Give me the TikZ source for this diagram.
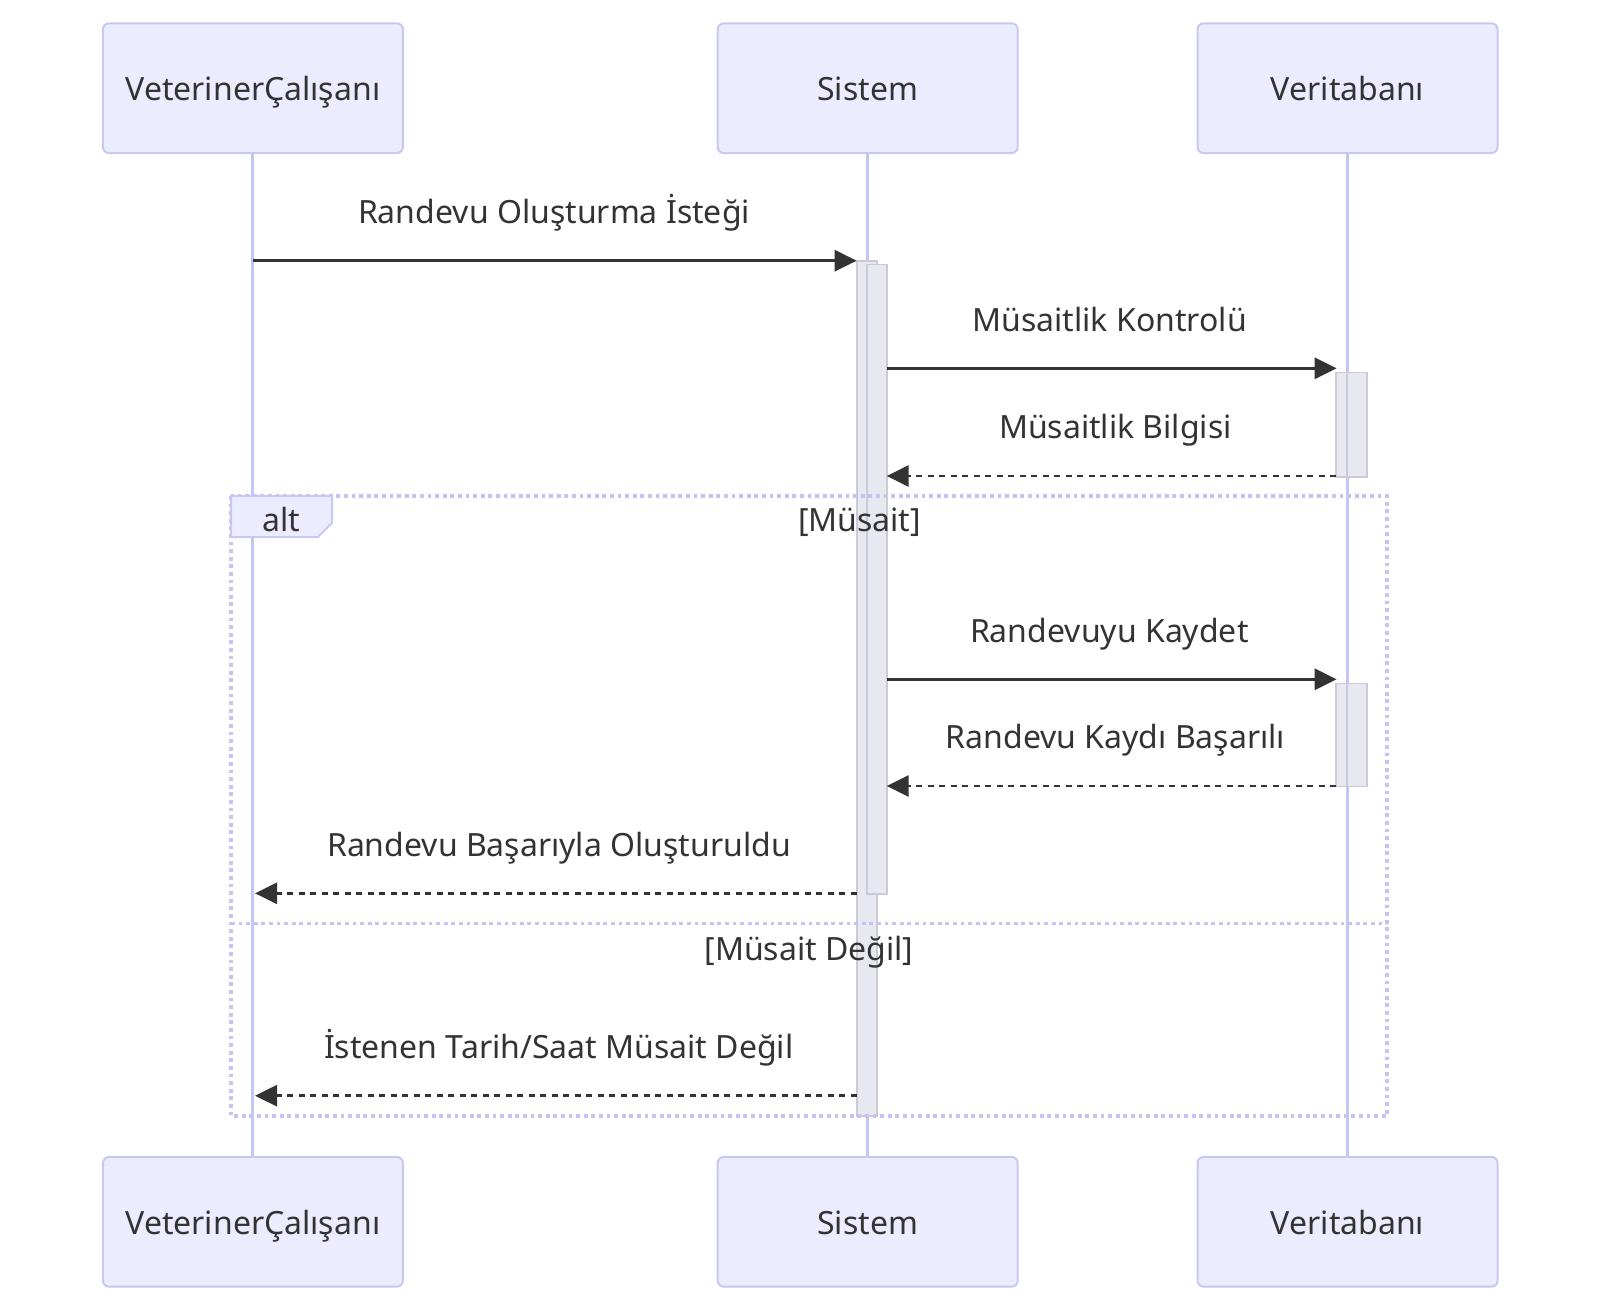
\documentclass[tikz,border=0pt]{standalone}
\usepackage{fontspec}
\setmainfont{Noto Sans}
\usetikzlibrary{arrows.meta}
\definecolor{actfill}{HTML}{ECECFF}
\definecolor{actline}{HTML}{C8C8F4}
\definecolor{lifecol}{HTML}{C6C6F6}
\definecolor{actvfill}{HTML}{E8E8F0}
\definecolor{actvline}{HTML}{CACADB}
\definecolor{loopcol}{HTML}{C4C4F2}
\definecolor{txt}{HTML}{333333}
\begin{document}
\begin{tikzpicture}[x=1pt,y=-1pt,
  actor/.style={draw=actline, fill=actfill, line width=2pt, rounded corners=6pt,
    minimum width=300pt, minimum height=129.7pt, inner sep=0pt,
    font=\fontsize{32}{38}\selectfont, text=txt, text height=30pt, text depth=5pt},
  lbl/.style={anchor=base, inner sep=0pt, font=\fontsize{32}{38}\selectfont, text=txt},
  life/.style={draw=lifecol, line width=3pt},
  actv/.style={draw=actvline, fill=actvfill, line width=1.6pt},
  msg/.style={draw=txt, line width=2.8pt, -{Triangle[length=22pt,width=21pt]}},
  reply/.style={msg, dash pattern=on 6pt off 5.5pt},
  loopln/.style={draw=loopcol, line width=3.6pt, dash pattern=on 3.8pt off 3.8pt},
]
\useasboundingbox (0,0) rectangle (1600,1310);

% actors
\node[actor] (vt) at (252.9,88.2) {VeterinerÇalışanı};
\node[actor] (st) at (867.7,88.2) {Sistem};
\node[actor] (db) at (1347.5,88.2) {Veritabanı};
\node[actor] (vb) at (252.9,1221.8) {VeterinerÇalışanı};
\node[actor] (sb) at (867.7,1221.8) {Sistem};
\node[actor] (dbb) at (1347.5,1221.8) {Veritabanı};

% lifelines
\draw[life] (vt.south) -- (vb.north);
\draw[life] (st.south) -- (sb.north);
\draw[life] (db.south) -- (dbb.north);

% activations
\path[actv] (856.7,260.7) rectangle (876.7,1116);
\path[actv] (866.7,264.3) rectangle (886.7,894);
\path[actv] (1336,372.3) rectangle (1367,476.7);
\path[actv] (1336,683.4) rectangle (1367,786.6);
\draw[actvline, line width=1.6pt] (1346.7,372.3) -- (1346.7,476.7);
\draw[actvline, line width=1.6pt] (1346.7,683.4) -- (1346.7,786.6);

% alt frame
\draw[loopln] (231,496) rectangle (1387,1116);
\draw[loopln] (231,923.3) -- (1387,923.3);
\draw[draw=actline, fill=actfill, line width=2pt] (231,496) -- (332,496) -- (332,523) -- (318,537) -- (231,537) -- cycle;
\node[lbl] (altl) at (281.5,531.5) {alt};
\node[lbl] (g1) at (859.5,531.5) {[Müsait]};
\node[lbl] (g2) at (809,960) {[Müsait Değil]};

% message endpoints
\coordinate (m1s) at (253,260.7);   \coordinate (m1e) at (856.7,260.7);
\coordinate (m2s) at (886.7,368.3); \coordinate (m2e) at (1336.7,368.3);
\coordinate (m3s) at (1336,476);    \coordinate (m3e) at (886.7,476);
\coordinate (m4s) at (886.7,679.3); \coordinate (m4e) at (1336.7,679.3);
\coordinate (m5s) at (1336,786);    \coordinate (m5e) at (886.7,786);
\coordinate (m6s) at (856.7,893.3); \coordinate (m6e) at (255,893.3);
\coordinate (m7s) at (856.7,1095.7);\coordinate (m7e) at (255,1095.7);

\draw[msg] (m1s) -- (m1e);
\draw[msg] (m2s) -- (m2e);
\draw[reply] (m3s) -- (m3e);
\draw[msg] (m4s) -- (m4e);
\draw[reply] (m5s) -- (m5e);
\draw[reply] (m6s) -- (m6e);
\draw[reply] (m7s) -- (m7e);

\node[lbl] (t1) at (554,223.3) {Randevu Oluşturma İsteği};
\node[lbl] (t2) at (1109.6,331) {Müsaitlik Kontrolü};
\node[lbl] (t3) at (1115.4,438.6) {Müsaitlik Bilgisi};
\node[lbl] (t4) at (1109.3,642) {Randevuyu Kaydet};
\node[lbl] (t5) at (1115.4,748.6) {Randevu Kaydı Başarılı};
\node[lbl] (t6) at (559,856) {Randevu Başarıyla Oluşturuldu};
\node[lbl] (t7) at (558.7,1058.3) {İstenen Tarih/Saat Müsait Değil};
\end{tikzpicture}
\end{document}
